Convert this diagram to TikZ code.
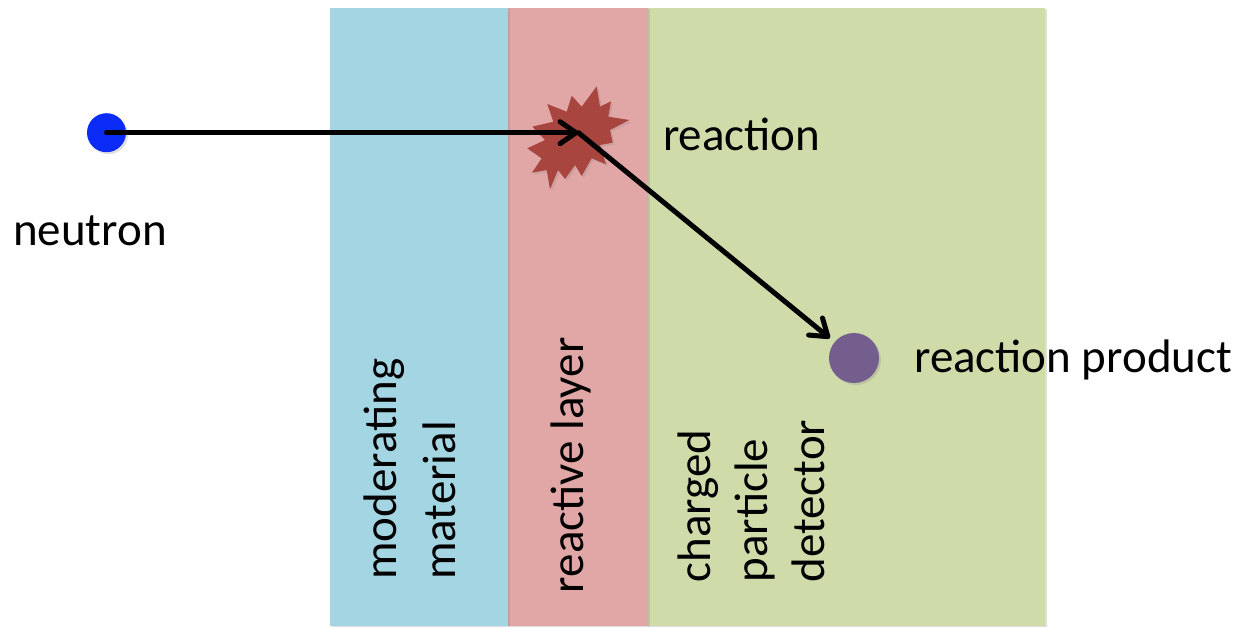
\documentclass[tikz,border=0pt]{standalone}
\usepackage{fontspec}
\setmainfont{Carlito}
\usetikzlibrary{arrows.meta,shadows}
\definecolor{modblue}{HTML}{A3D5E3}
\definecolor{reacred}{HTML}{E0A7A6}
\definecolor{detgreen}{HTML}{CFDCAA}
\definecolor{neublue}{HTML}{0B2CF6}
\definecolor{prodpurple}{HTML}{735E8E}
\definecolor{starred}{HTML}{A8453F}
\tikzset{
  layer/.style={draw=none, drop shadow={shadow xshift=2pt, shadow yshift=-1pt, opacity=0.25}},
  lbl/.style={font=\fontsize{47}{57}\selectfont, inner sep=0pt, text=black},
  vlbl/.style={lbl, rotate=90, anchor=base west},
  particle/.style={circle, inner sep=0pt, draw=none, drop shadow={shadow xshift=2pt, shadow yshift=-2pt, opacity=0.25}},
  track/.style={draw=black, line width=5pt, line cap=round, -{Straight Barb[length=16pt,width=22pt,round,line width=5pt]}},
}
\begin{document}
\begin{tikzpicture}[x=1pt,y=-1pt]
\useasboundingbox (0,0) rectangle (1240,628);
% layers
\fill[detgreen, layer] (647,8) rectangle (1045,626);
\fill[reacred, layer] (508,8) rectangle (648,626);
\fill[modblue, layer] (330,8) rectangle (508,626);
% starburst
\fill[starred, drop shadow={shadow xshift=2pt, shadow yshift=-2pt, opacity=0.2}]
  (596.7,86.3) -- (600,106.7) -- (611,101.3) -- (608.3,116.7) -- (629.3,120)
  -- (610,130) -- (612.7,142.7) -- (600,145) -- (606,164.3) -- (591.7,158.3)
  -- (581.7,176) -- (575,165) -- (565,179) -- (558,170) -- (550,189.3)
  -- (546.7,170) -- (532,172.7) -- (541.7,158.3) -- (527.3,148.3) -- (545,140)
  -- (532.3,126.7) -- (553.3,121.7) -- (547.3,104) -- (566.7,111.7) -- (571.7,95.7)
  -- (581.7,106.7) -- cycle;
% particles
\node[particle, fill=neublue, minimum size=39pt] (neutron) at (106.5,132.7) {};
\node[particle, fill=prodpurple, minimum size=50pt] (product) at (854,358) {};
\coordinate (hit) at (578.5,132.7);
% tracks
\draw[track] (neutron.center) -- (hit);
\draw[track, shorten >=6pt] (hit) -- (product);
% labels
\node[lbl, anchor=base west] (lneutron) at (13,245.7) {neutron};
\node[lbl, anchor=base west] (lreaction) at (663,150.7) {reaction};
\node[lbl, anchor=base west] (lproduct) at (914,372.7) {reaction product};
\node[vlbl] (lmod1) at (396.7,580) {moderating};
\node[vlbl] (lmod2) at (455,580) {material};
\node[vlbl] (lreac) at (583.3,593.3) {reactive layer};
\node[vlbl] (ldet1) at (710,582.7) {charged};
\node[vlbl] (ldet2) at (767.3,582.7) {particle};
\node[vlbl] (ldet3) at (824,582.7) {detector};
\end{tikzpicture}
\end{document}
